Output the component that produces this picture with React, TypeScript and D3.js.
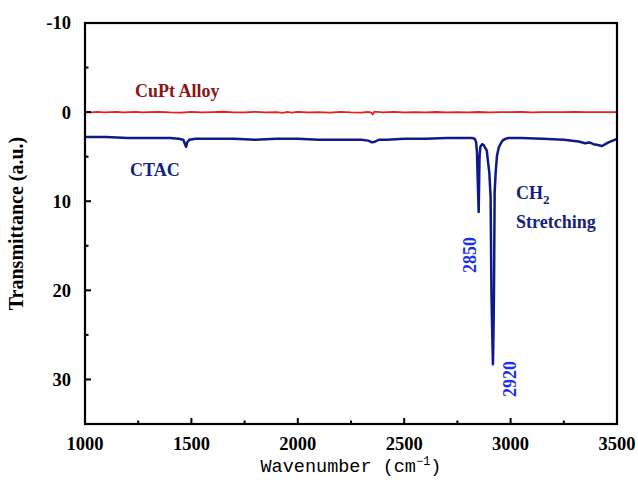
import React, { useEffect, useRef } from "react";
import * as d3 from "d3";

// CuPt alloy trace (flat, slightly noisy around 0)
const alloyWn = [1000, 1030, 1060, 1090, 1120, 1150, 1180, 1210, 1240, 1270, 1300, 1350, 1400, 1450, 1500, 1550, 1600, 1650, 1700, 1750, 1800, 1850, 1900, 1930, 1950, 1970, 2000, 2050, 2100, 2150, 2200, 2250, 2300, 2330, 2345, 2352, 2360, 2400, 2450, 2500, 2550, 2600, 2650, 2700, 2750, 2800, 2850, 2900, 2950, 3000, 3050, 3100, 3150, 3200, 3250, 3300, 3350, 3400, 3450, 3500];
const alloyT = [0.0, 0.03, -0.02, 0.04, 0.0, -0.03, 0.03, 0.01, -0.02, 0.03, 0.0, -0.03, 0.03, 0.05, -0.02, 0.03, 0.0, -0.04, 0.04, 0.02, -0.02, 0.03, 0.0, 0.08, -0.03, 0.06, -0.02, 0.04, 0.0, 0.05, -0.03, 0.03, 0.05, -0.03, 0.05, 0.25, -0.05, 0.02, -0.02, 0.03, 0.0, 0.02, -0.01, 0.02, 0.0, 0.03, -0.01, 0.02, 0.0, 0.01, -0.01, 0.02, 0.0, 0.01, 0.0, -0.01, 0.01, 0.0, 0.01, 0.0];

// CTAC trace
const ctacWn = [1000, 1100, 1200, 1300, 1400, 1440, 1462, 1470, 1475, 1480, 1490, 1520, 1600, 1700, 1800, 1900, 2000, 2100, 2200, 2300, 2330, 2350, 2365, 2380, 2420, 2500, 2600, 2700, 2780, 2820, 2832, 2838, 2842, 2846, 2850, 2854, 2858, 2866, 2874, 2880, 2888, 2894, 2900, 2906, 2910, 2913, 2917, 2920, 2922, 2925, 2930, 2936, 2944, 2952, 2962, 2975, 2990, 3050, 3150, 3250, 3320, 3350, 3370, 3390, 3410, 3430, 3445, 3460, 3480, 3500];
const ctacT = [2.8, 2.8, 2.9, 2.9, 2.9, 3.0, 3.1, 3.6, 3.9, 3.4, 3.1, 3.0, 3.0, 3.0, 3.1, 3.0, 3.0, 3.1, 3.1, 3.1, 3.2, 3.4, 3.3, 3.1, 3.1, 3.0, 3.0, 2.9, 2.9, 2.9, 3.0, 3.4, 4.5, 8.0, 11.2, 5.0, 3.9, 3.6, 3.7, 4.0, 4.3, 5.6, 6.8, 9.5, 20.2, 24.0, 28.3, 24.0, 20.0, 9.0, 6.7, 4.9, 4.0, 3.6, 3.2, 3.0, 2.9, 2.9, 3.0, 3.1, 3.3, 3.5, 3.4, 3.6, 3.7, 3.8, 3.6, 3.4, 3.2, 3.0];

const xTicks = [1000, 1500, 2000, 2500, 3000, 3500];
const xMinor = [1250, 1750, 2250, 2750, 3250];
const yTicks = [-10, 0, 10, 20, 30];
const yMinor = [-5, 5, 15, 25];

const W = 638;
const H = 489;

function App() {
    const ref = useRef<SVGSVGElement>(null);

    useEffect(() => {
        const svg = d3.select(ref.current);
        svg.selectAll("*").remove();

        const left = 85, right = 617, top = 23, bottom = 424;
        const serif = "'Liberation Serif', 'Times New Roman', serif";

        const x = d3.scaleLinear().domain([1000, 3500]).range([left, right]);
        const y = d3.scaleLinear().domain([-10, 35]).range([top, bottom]);

        const line = d3.line<[number, number]>()
            .x(d => x(d[0]))
            .y(d => y(d[1]));

        const alloy = alloyWn.map((w, i) => [w, alloyT[i]] as [number, number]);
        const ctac = ctacWn.map((w, i) => [w, ctacT[i]] as [number, number]);

        // traces
        svg.append("path")
            .attr("d", line(alloy))
            .attr("fill", "none")
            .attr("stroke", "#ee1c1c")
            .attr("stroke-width", 1.8);

        svg.append("path")
            .attr("d", line(ctac))
            .attr("fill", "none")
            .attr("stroke", "#0c1a8a")
            .attr("stroke-width", 2.5)
            .attr("stroke-linejoin", "round");

        // frame
        svg.append("rect")
            .attr("x", left)
            .attr("y", top)
            .attr("width", right - left)
            .attr("height", bottom - top)
            .attr("fill", "none")
            .attr("stroke", "#000")
            .attr("stroke-width", 2.2);

        // y ticks (inward)
        const ya = svg.append("g");
        yTicks.forEach(t => {
            ya.append("line")
                .attr("x1", left).attr("x2", left + 6)
                .attr("y1", y(t)).attr("y2", y(t))
                .attr("stroke", "#000").attr("stroke-width", 2);
            ya.append("text")
                .attr("x", left - 14)
                .attr("y", y(t))
                .attr("dy", "0.35em")
                .attr("text-anchor", "end")
                .style("font-family", serif)
                .style("font-weight", "bold")
                .style("font-size", "18.5px")
                .text(String(t));
        });
        yMinor.forEach(t => {
            ya.append("line")
                .attr("x1", left).attr("x2", left + 3.5)
                .attr("y1", y(t)).attr("y2", y(t))
                .attr("stroke", "#000").attr("stroke-width", 2);
        });

        // x ticks (inward)
        const xa = svg.append("g");
        xTicks.forEach(t => {
            xa.append("line")
                .attr("x1", x(t)).attr("x2", x(t))
                .attr("y1", bottom).attr("y2", bottom - 6)
                .attr("stroke", "#000").attr("stroke-width", 2);
            xa.append("text")
                .attr("x", x(t))
                .attr("y", bottom + 26)
                .attr("text-anchor", "middle")
                .style("font-family", serif)
                .style("font-weight", "bold")
                .style("font-size", "18.5px")
                .text(String(t));
        });
        xMinor.forEach(t => {
            xa.append("line")
                .attr("x1", x(t)).attr("x2", x(t))
                .attr("y1", bottom).attr("y2", bottom - 3.5)
                .attr("stroke", "#000").attr("stroke-width", 2);
        });

        // axis titles
        svg.append("text")
            .attr("transform", "translate(23," + ((top + bottom) / 2) + ") rotate(-90)")
            .attr("text-anchor", "middle")
            .style("font-family", serif)
            .style("font-weight", "bold")
            .style("font-size", "20px")
            .text("Transmittance (a.u.)");

        const xt = svg.append("text")
            .attr("x", (left + right) / 2)
            .attr("y", 472)
            .attr("text-anchor", "middle")
            .style("font-family", "'Liberation Mono', 'DejaVu Sans Mono', monospace")
            .style("font-size", "18.5px");
        xt.append("tspan").text("Wavenumber (cm");
        xt.append("tspan").attr("dy", -7).style("font-size", "12px").text("\u22121");
        xt.append("tspan").attr("dy", 7).text(")");

        // annotations
        const label = (tx: number, ty: number, txt: string, color: string) =>
            svg.append("text")
                .attr("x", tx).attr("y", ty)
                .attr("fill", color)
                .style("font-family", serif)
                .style("font-weight", "bold")
                .style("font-size", "18px")
                .text(txt);

        label(135, 97, "CuPt Alloy", "#8b1414");
        label(130, 176, "CTAC", "#14227e");

        const ch = label(516, 199, "CH", "#14227e");
        ch.append("tspan").attr("dy", 5).style("font-size", "13px").text("2");
        label(516, 228, "Stretching", "#14227e");

        // peak positions, rotated
        [[2850, 255, -3], [2920, 379, 22]].forEach(([wn, cy, dx]) => {
            svg.append("text")
                .attr("transform", "translate(" + (x(wn) + dx) + "," + cy + ") rotate(-90)")
                .attr("text-anchor", "middle")
                .attr("fill", "#1b2fe6")
                .style("font-family", serif)
                .style("font-weight", "bold")
                .style("font-size", "18px")
                .text(String(wn));
        });
    }, []);

    return (
        <svg ref={ref} width={W} height={H}
            style={{ position: "absolute", left: 0, top: 0, background: "#fff" }} />
    );
}

export default App;
